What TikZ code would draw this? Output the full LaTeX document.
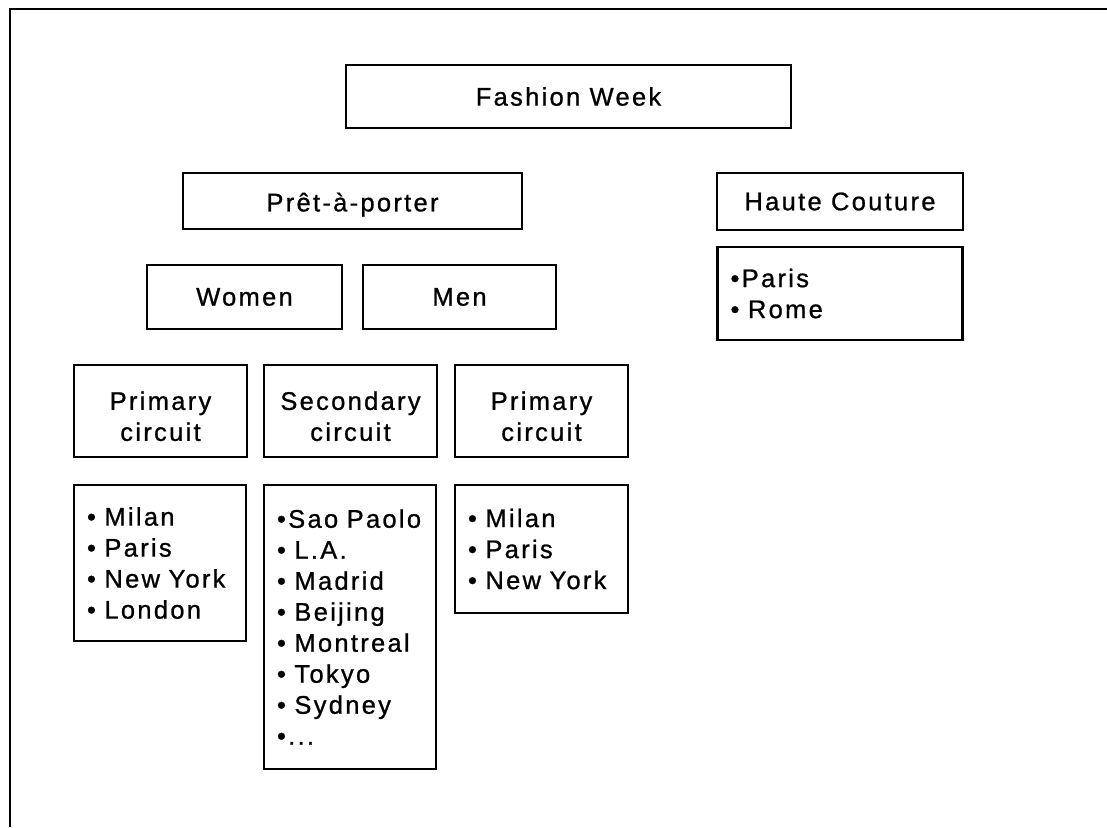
\documentclass[tikz,border=0pt]{standalone}
\usepackage{fontspec}
\setmainfont[LetterSpace=9, FakeBold=0.9]{Liberation Sans}
\begin{document}
\begin{tikzpicture}[x=1pt,y=-1pt,
  txt/.style={font=\fontsize{25.5}{31}\selectfont},
  box/.style={draw, line width=2.4pt, txt, align=center, inner sep=0pt},
  listbox/.style={draw, line width=2.4pt, txt, align=left, inner xsep=13pt, inner ysep=0pt}]
\useasboundingbox (0,0) rectangle (1107,827);
% outer frame
\draw[line width=2.2pt] (10,827) -- (10,9) -- (1107,9);

% headings
\node[box, minimum width=445pt, minimum height=63pt] (fw) at (568.5,96.5) {Fashion Week};
\node[box, minimum width=339pt, minimum height=56pt, text depth=0pt] (pap) at (352.5,201) {\raisebox{-2pt}{Prêt-à-porter}};
\node[box, minimum width=246pt, minimum height=57pt] (hc) at (840,201.5) {Haute Couture};
\node[listbox, minimum height=93pt, text width=219pt] (hcl) at (840,293.5) {•Paris\\• Rome};

% men and women
\node[box, minimum width=195pt, minimum height=64pt] (women) at (244.5,297) {Women};
\node[box, minimum width=193pt, minimum height=64pt] (men) at (459.5,297) {Men};

% circuits (the strut lowers the two lines a little)
\node[box, minimum width=173pt, minimum height=92pt] (pc1) at (160.5,411) {\rule{0pt}{29pt}Primary\\circuit};
\node[box, minimum width=173pt, minimum height=92pt] (sc) at (350.5,411) {\rule{0pt}{29pt}Secondary\\circuit};
\node[box, minimum width=173pt, minimum height=92pt] (pc2) at (541.5,411) {\rule{0pt}{29pt}Primary\\circuit};

% city lists
\node[listbox, minimum height=156pt, text width=146pt] (l1) at (160,563)
  {• Milan\\• Paris\\• New York\\• London};
\node[listbox, minimum height=284pt, text width=146pt] (l2) at (350,627)
  {•Sao Paolo\\• L.A.\\• Madrid\\• Beijing\\• Montreal\\• Tokyo\\• Sydney\\•...};
\node[listbox, minimum height=128pt, text width=147pt] (l3) at (541.5,549)
  {• Milan\\• Paris\\• New York};
\end{tikzpicture}
\end{document}
